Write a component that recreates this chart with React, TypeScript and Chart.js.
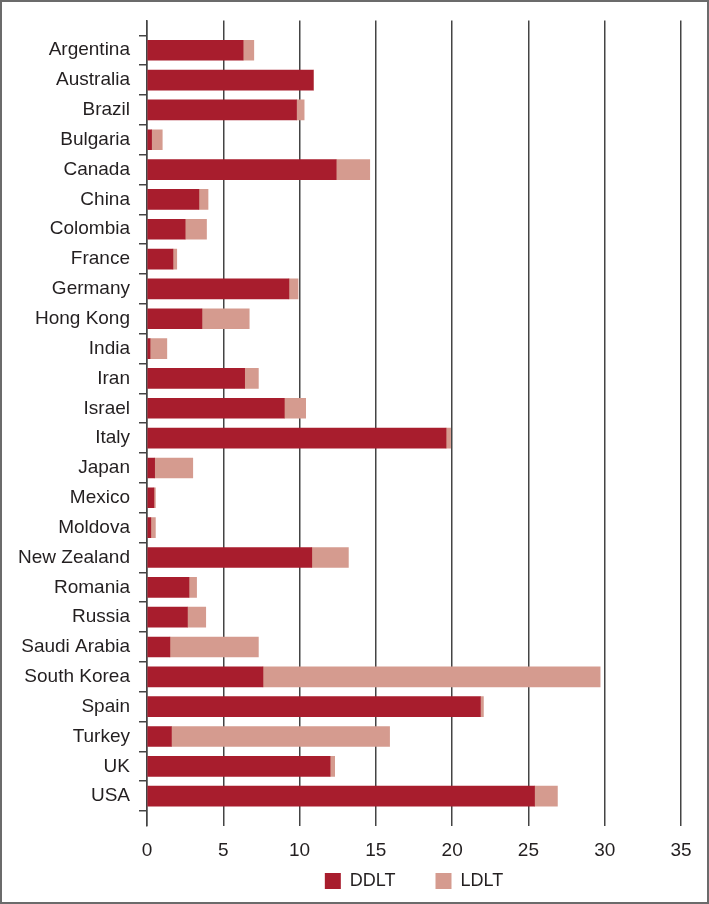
import React, { useEffect, useRef } from "react";
import { Chart, registerables } from "chart.js";

Chart.register(...registerables);

const countries = [
  "Argentina", "Australia", "Brazil", "Bulgaria", "Canada", "China", "Colombia",
  "France", "Germany", "Hong Kong", "India", "Iran", "Israel", "Italy", "Japan",
  "Mexico", "Moldova", "New Zealand", "Romania", "Russia", "Saudi Arabia",
  "South Korea", "Spain", "Turkey", "UK", "USA",
];

const ddlt = [
  6.3, 10.9, 9.8, 0.3, 12.4, 3.4, 2.5, 1.7, 9.3, 3.6, 0.2, 6.4, 9.0, 19.6, 0.5,
  0.45, 0.25, 10.8, 2.75, 2.65, 1.5, 7.6, 21.85, 1.6, 12.0, 25.4,
];

const ldlt = [
  0.7, 0, 0.5, 0.7, 2.2, 0.6, 1.4, 0.25, 0.6, 3.1, 1.1, 0.9, 1.4, 0.3, 2.5,
  0.1, 0.3, 2.4, 0.5, 1.2, 5.8, 22.1, 0.2, 14.3, 0.3, 1.5,
];

const xTicks = [0, 5, 10, 15, 20, 25, 30, 35];
const seriesNames = ["DDLT", "LDLT"];

const FONT = "'Liberation Sans', Arial, Helvetica, sans-serif";
const TEXT = "#231f20";
const LINE = "#444444";

// centre the legend under the plot area, a little below the axis labels
const legendUnderPlot = {
  id: "legendUnderPlot",
  afterLayout(chart: any) {
    const lg = chart.legend;
    const ca = chart.chartArea;
    if (!lg || !ca) return;
    lg.left = ca.left;
    lg.right = ca.right;
    lg.width = ca.right - ca.left;
    lg.top = ca.bottom + 6;
    lg.height = 75;
    lg.bottom = lg.top + lg.height;
  },
};

export default function App() {
  const ref = useRef<HTMLCanvasElement | null>(null);

  useEffect(() => {
    if (!ref.current) return;
    const labels = ["", ...countries, ""];
    const chart = new Chart(ref.current, {
      type: "bar",
      data: {
        labels,
        datasets: [
          {
            label: seriesNames[0],
            data: [null, ...ddlt, null],
            backgroundColor: "#a81d2d",
            borderWidth: 0,
            barThickness: 20,
          },
          {
            label: seriesNames[1],
            data: [null, ...ldlt, null],
            backgroundColor: "#d59b8f",
            borderWidth: 0,
            barThickness: 20,
          },
        ],
      },
      plugins: [legendUnderPlot],
      options: {
        indexAxis: "y",
        responsive: false,
        animation: false,
        devicePixelRatio: 1,
        layout: { padding: { left: 0, right: 28, top: 16, bottom: 8 } },
        plugins: {
          tooltip: { enabled: false },
          legend: {
            position: "bottom",
            align: "center",
            maxHeight: 30,
            labels: {
              boxWidth: 16,
              boxHeight: 16,
              padding: 40,
              color: TEXT,
              font: { family: FONT, size: 18 },
            },
          },
        },
        scales: {
          x: {
            stacked: true,
            min: 0,
            max: 35,
            afterBuildTicks: (scale: any) => {
              scale.ticks = xTicks.map((v) => ({ value: v }));
            },
            afterFit: (scale: any) => {
              scale.height = 40;
            },
            grid: { color: LINE, lineWidth: 1.5, drawTicks: false },
            border: { display: false },
            ticks: {
              padding: 13,
              color: TEXT,
              font: { family: FONT, size: 19 },
            },
          },
          y: {
            stacked: true,
            offset: false,
            afterFit: (scale: any) => {
              scale.width = 147;
            },
            grid: {
              drawOnChartArea: false,
              offset: true,
              tickLength: 8,
              color: LINE,
              lineWidth: 1.5,
            },
            border: { display: true, color: LINE, width: 1.5 },
            ticks: {
              autoSkip: false,
              padding: 9,
              color: TEXT,
              font: { family: FONT, size: 19 },
            },
          },
        },
      },
    });
    return () => chart.destroy();
  }, []);

  return (
    <canvas
      ref={ref}
      width={709}
      height={904}
      style={{
        position: "fixed",
        left: 0,
        top: 0,
        width: 709,
        height: 904,
        background: "#fff",
        outline: "2px solid #6b6b6b",
        outlineOffset: -2,
      }}
    />
  );
}
